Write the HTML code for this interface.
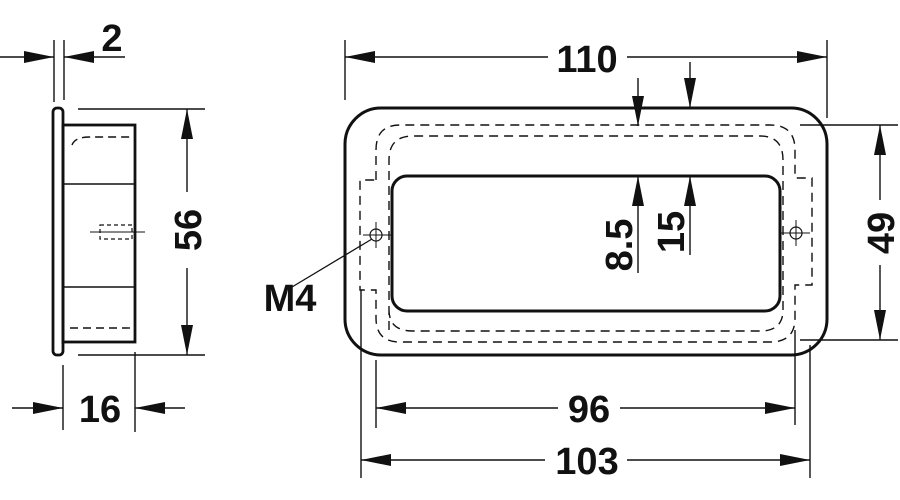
<!DOCTYPE html>
<html><head><style>body{margin:0;background:#fff}svg{display:block}text{font-family:"Liberation Sans",sans-serif;font-weight:bold;font-size:38px;fill:#111}</style></head>
<body>
<svg width="900" height="500" viewBox="0 0 900 500" xmlns="http://www.w3.org/2000/svg">
<defs>
<marker id="b" viewBox="0 0 30 12" refX="30" refY="6" markerWidth="30" markerHeight="12" markerUnits="userSpaceOnUse" orient="auto"><path d="M0,0 L30,6 L0,12 Z" fill="#111"/></marker>
</defs>
<g stroke="#111" fill="none">
<rect x="53" y="108" width="10" height="247" rx="4" stroke-width="2.8"/>
<rect x="63" y="125" width="72" height="217" stroke-width="2.8"/>
<line x1="63" y1="184" x2="135" y2="184" stroke-width="1.4"/>
<line x1="63" y1="287" x2="135" y2="287" stroke-width="1.4"/>
<path d="M72,145 Q75,137 90,137 L133,137" stroke-width="1.4" stroke-dasharray="8,5"/>
<line x1="70" y1="328" x2="133" y2="328" stroke-width="1.4" stroke-dasharray="8,5"/>
<line x1="90" y1="232" x2="145" y2="232" stroke-width="1"/>
<rect x="100" y="225" width="32" height="14" stroke-width="1.2" stroke-dasharray="4,3"/>
<line x1="54" y1="40" x2="54" y2="102" stroke-width="1.4"/>
<line x1="64" y1="40" x2="64" y2="100" stroke-width="1.4"/>
<line x1="0" y1="57" x2="54" y2="57" stroke-width="1.4" marker-end="url(#b)"/>
<line x1="125" y1="57" x2="64" y2="57" stroke-width="1.4" marker-end="url(#b)"/>
<line x1="78" y1="109" x2="205" y2="109" stroke-width="1.4"/>
<line x1="78" y1="355" x2="205" y2="355" stroke-width="1.4"/>
<line x1="187" y1="192" x2="187" y2="109" stroke-width="1.4" marker-end="url(#b)"/>
<line x1="187" y1="268" x2="187" y2="355" stroke-width="1.4" marker-end="url(#b)"/>
<line x1="63" y1="365" x2="63" y2="430" stroke-width="1.4"/>
<line x1="135" y1="352" x2="135" y2="432" stroke-width="1.4"/>
<line x1="12" y1="408" x2="63" y2="408" stroke-width="1.4" marker-end="url(#b)"/>
<line x1="185" y1="408" x2="135" y2="408" stroke-width="1.4" marker-end="url(#b)"/>
<rect x="345" y="108" width="482" height="247" rx="36" stroke-width="3"/>
<rect x="392" y="176" width="388" height="135" rx="15" stroke-width="3"/>
<path d="M389,330 L389,160 Q389,136 413,136 L760,136 Q783,136 783,160 L783,310 Q783,331 760,331 L413,331 Q389,331 389,310" stroke-width="1.4" stroke-dasharray="9,6"/>
<path d="M376,180 L376,150 Q376,125 400,125 L770,125 Q795,125 795,150 L795,178 L812,178 L812,285 L795,285 L795,318 Q795,342 770,342 L400,342 Q376,342 376,318 L376,290 L360,290 L360,180 Z" stroke-width="1.4" stroke-dasharray="9,6"/>
<circle cx="376" cy="235" r="6" stroke-width="1.2"/>
<line x1="363" y1="235" x2="392" y2="235" stroke-width="1"/>
<line x1="376" y1="222" x2="376" y2="248" stroke-width="1"/>
<circle cx="796" cy="233" r="6" stroke-width="1.2"/>
<line x1="781" y1="233" x2="810" y2="233" stroke-width="1"/>
<line x1="796" y1="220" x2="796" y2="246" stroke-width="1"/>
<line x1="292" y1="287" x2="372" y2="239" stroke-width="1.3"/>
<line x1="345" y1="40" x2="345" y2="100" stroke-width="1.4"/>
<line x1="827" y1="40" x2="827" y2="118" stroke-width="1.4"/>
<line x1="548" y1="57" x2="345" y2="57" stroke-width="1.4" marker-end="url(#b)"/>
<line x1="627" y1="57" x2="827" y2="57" stroke-width="1.4" marker-end="url(#b)"/>
<line x1="690" y1="62" x2="690" y2="108" stroke-width="1.4" marker-end="url(#b)"/>
<line x1="690" y1="255" x2="690" y2="176" stroke-width="1.4" marker-end="url(#b)"/>
<line x1="638" y1="78" x2="638" y2="126" stroke-width="1.4" marker-end="url(#b)"/>
<line x1="638" y1="273" x2="638" y2="176" stroke-width="1.4" marker-end="url(#b)"/>
<line x1="800" y1="125" x2="898" y2="125" stroke-width="1.4"/>
<line x1="800" y1="340" x2="898" y2="340" stroke-width="1.4"/>
<line x1="880" y1="200" x2="880" y2="125" stroke-width="1.4" marker-end="url(#b)"/>
<line x1="880" y1="265" x2="880" y2="340" stroke-width="1.4" marker-end="url(#b)"/>
<line x1="376" y1="360" x2="376" y2="428" stroke-width="1.4"/>
<line x1="795" y1="330" x2="795" y2="425" stroke-width="1.4"/>
<line x1="361" y1="290" x2="361" y2="478" stroke-width="1.4"/>
<line x1="810" y1="345" x2="810" y2="478" stroke-width="1.4"/>
<line x1="558" y1="408" x2="376" y2="408" stroke-width="1.4" marker-end="url(#b)"/>
<line x1="620" y1="408" x2="795" y2="408" stroke-width="1.4" marker-end="url(#b)"/>
<line x1="545" y1="460" x2="361" y2="460" stroke-width="1.4" marker-end="url(#b)"/>
<line x1="627" y1="460" x2="810" y2="460" stroke-width="1.4" marker-end="url(#b)"/>
</g>
<text x="112" y="51" text-anchor="middle">2</text>
<text x="100" y="422" text-anchor="middle">16</text>
<text transform="translate(201,230) rotate(-90)" text-anchor="middle">56</text>
<text x="587" y="72" text-anchor="middle">110</text>
<text x="290" y="311" text-anchor="middle">M4</text>
<text transform="translate(632,245) rotate(-90)" text-anchor="middle">8.5</text>
<text transform="translate(684,232) rotate(-90)" text-anchor="middle">15</text>
<text transform="translate(894,233) rotate(-90)" text-anchor="middle">49</text>
<text x="589" y="422" text-anchor="middle">96</text>
<text x="587" y="474" text-anchor="middle">103</text>
</svg>
</body></html>
